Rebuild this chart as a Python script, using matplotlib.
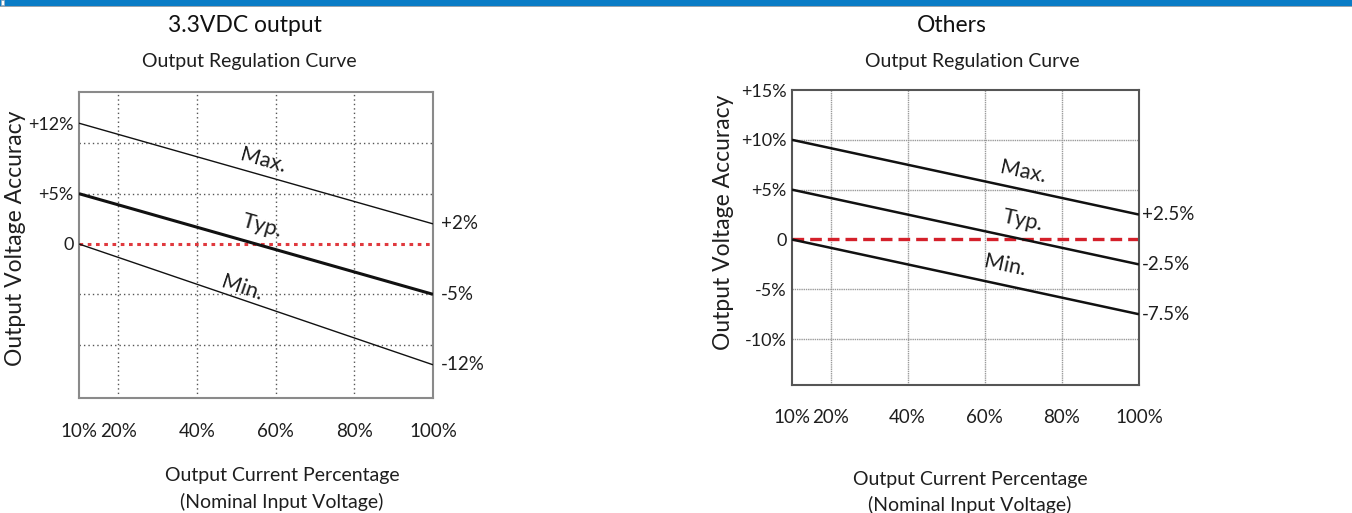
import numpy as np
import matplotlib
matplotlib.use("Agg")
import matplotlib.pyplot as plt
from matplotlib.patches import Rectangle

plt.rcParams['font.family'] = ['Lato', 'DejaVu Sans']

# ---------------- data ----------------
load_pct = [10, 100]
xtick_vals = [10, 20, 40, 60, 80, 100]
xtick_labels = ["10%", "20%", "40%", "60%", "80%", "100%"]

# Left chart: 3.3VDC output
left_max = [12, 2]
left_typ = [5, -5]
left_min = [0, -12]
left_ytick_vals = [12, 5, 0]
left_ytick_labels = ["+12%", "+5%", "0"]
left_hgrid = [10, 5, -5, -10]
left_end_labels = ["+2%", "-5%", "-12%"]

# Right chart: Others
right_max = [10, 2.5]
right_typ = [5, -2.5]
right_min = [0, -7.5]
right_ytick_vals = [15, 10, 5, 0, -5, -10]
right_ytick_labels = ["+15%", "+10%", "+5%", "0", "-5%", "-10%"]
right_hgrid = [10, 5, -5, -10]
right_end_labels = ["+2.5%", "-2.5%", "-7.5%"]

vgrid = [20, 40, 60, 80]
curve_names = ["Max.", "Typ.", "Min."]

W, H = 1352, 513
fig = plt.figure(figsize=(W / 100, H / 100), dpi=100)
fig.patch.set_facecolor("white")

# top blue band
fig.patches.append(Rectangle((0, 1 - 6 / H), 1, 6 / H, transform=fig.transFigure,
                             facecolor="#0a7cc6", edgecolor="none", zorder=0))
fig.patches.append(Rectangle((0, 1 - 7 / H), 1, 1.2 / H, transform=fig.transFigure,
                             facecolor="#9aa4ad", edgecolor="none", zorder=0))
fig.patches.append(Rectangle((1 / W, 1 - 5 / H), 3 / W, 4.5 / H, transform=fig.transFigure,
                             facecolor="white", edgecolor="#9ab", lw=0.5, zorder=1))

TXT = "#1e1e1e"


def fpx(x0, y0, x1, y1):
    return [x0 / W, 1 - y1 / H, (x1 - x0) / W, (y1 - y0) / H]


def panel(rect, ylim, maxv, typv, minv, ytv, ytl, hgrid, endl, style, label_pos, tickpad):
    ax = fig.add_axes(rect)
    ax.set_xlim(10, 100)
    ax.set_ylim(*ylim)
    for s in ax.spines.values():
        s.set_color(style["spine"])
        s.set_linewidth(1.5)
    ax.set_xticks(xtick_vals)
    ax.set_xticklabels(xtick_labels, fontsize=13.5, color=TXT)
    ax.set_yticks(ytv)
    ax.set_yticklabels(ytl, fontsize=13, color=TXT)
    ax.tick_params(axis="x", length=0, pad=tickpad)
    ax.tick_params(axis="y", length=0, pad=4)
    for v in vgrid:
        ax.axvline(v, color=style["grid"], lw=style["glw"], ls=style["gls"], zorder=1)
    for h in hgrid:
        ax.axhline(h, color=style["grid"], lw=style["glw"], ls=style["gls"], zorder=1)
    ax.axhline(0, color=style["red"], lw=style["rlw"], ls=style["rls"], zorder=2)
    lws = style["lws"]
    for vals, lw in zip([maxv, typv, minv], lws):
        ax.plot(load_pct, vals, color="#111111", lw=lw, zorder=3, solid_capstyle="butt")
    for vals, lab in zip([maxv, typv, minv], endl):
        ax.annotate(lab, xy=(load_pct[-1], vals[-1]), xytext=(style["endoff"], 0),
                    textcoords="offset points", ha="left", va="center",
                    fontsize=13.5, color=TXT, annotation_clip=False)
    for vals, name, (lx, ly) in zip([maxv, typv, minv], curve_names, label_pos):
        ang = np.degrees(np.arctan2(vals[1] - vals[0], load_pct[1] - load_pct[0]))
        ax.text(lx, ly, name, rotation=ang, transform_rotates_text=True,
                rotation_mode="anchor", ha="center", va="center",
                fontsize=15.5, color=TXT, zorder=4)
    return ax


left_style = dict(spine="#8a8a8a", grid="#555555", glw=1.0, gls=(0, (1, 2.2)),
                  red="#e0393e", rlw=2.2, rls=(0, (1.2, 1.5)), lws=[1.0, 2.2, 1.0], endoff=6)
right_style = dict(spine="#555555", grid="#9a9a9a", glw=1.0, gls=(0, (1, 0.6)),
                   red="#d4202a", rlw=2.4, rls=(0, (3.5, 1.8)), lws=[1.8, 1.8, 1.8], endoff=2)

axL = panel(fpx(79, 92, 433, 398), (-15.3, 15.1), left_max, left_typ, left_min,
            left_ytick_vals, left_ytick_labels, left_hgrid, left_end_labels, left_style,
            [(56.8, 8.3), (56.6, 1.8), (51.5, -4.4)], 18)
axR = panel(fpx(792, 90, 1139, 385), (-14.6, 15.0), right_max, right_typ, right_min,
            right_ytick_vals, right_ytick_labels, right_hgrid, right_end_labels, right_style,
            [(69.9, 6.8), (69.9, 1.9), (65.2, -2.6)], 17)

# titles & axis labels
fig.text(245 / W, 1 - 26 / H, "3.3VDC output", ha="center", va="center", fontsize=16.5, color="#111")
fig.text(952 / W, 1 - 26 / H, "Others", ha="center", va="center", fontsize=16.5, color="#111")
fig.text(249 / W, 1 - 62 / H, "Output Regulation Curve", ha="center", va="center", fontsize=14, color=TXT)
fig.text(972 / W, 1 - 62 / H, "Output Regulation Curve", ha="center", va="center", fontsize=14, color=TXT)
fig.text(16 / W, 1 - 238 / H, "Output Voltage Accuracy", ha="center", va="center",
         rotation=90, fontsize=16.5, color=TXT)
fig.text(723 / W, 1 - 222 / H, "Output Voltage Accuracy", ha="center", va="center",
         rotation=90, fontsize=16.5, color=TXT)
fig.text(282 / W, 1 - 475 / H, "Output Current Percentage", ha="center", va="center", fontsize=14, color=TXT)
fig.text(282 / W, 1 - 502 / H, "(Nominal Input Voltage)", ha="center", va="center", fontsize=14, color=TXT)
fig.text(970 / W, 1 - 479 / H, "Output Current Percentage", ha="center", va="center", fontsize=14, color=TXT)
fig.text(970 / W, 1 - 505 / H, "(Nominal Input Voltage)", ha="center", va="center", fontsize=14, color=TXT)

fig.savefig("out.png", dpi=100)
